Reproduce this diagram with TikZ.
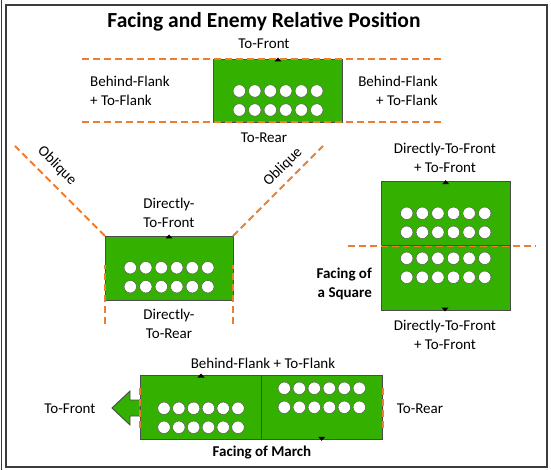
\documentclass[tikz,border=0pt]{standalone}
\usepackage{fontspec}
\setmainfont{Carlito}
\usepackage{tikz}
\usetikzlibrary{positioning, calc}

\definecolor{unitgreen}{RGB}{52,176,0}
\definecolor{flankorange}{RGB}{237,125,49}
\definecolor{edgegray}{RGB}{75,75,75}
\definecolor{framegray}{RGB}{60,60,60}

\begin{document}
\begin{tikzpicture}[
    x=1pt, y=-1pt,
    block/.style={draw=edgegray, line width=0.7pt, fill=unitgreen, anchor=north west, inner sep=0pt, outer sep=0pt},
    flank/.style={draw=flankorange, line width=1.8pt, dash pattern=on 7pt off 4pt},
    man/.style={draw=edgegray, line width=0.4pt, fill=white},
    lbl/.style={font=\fontsize{15pt}{18.5pt}\selectfont, align=center, inner sep=0pt},
    heading/.style={font=\fontsize{21.5pt}{25pt}\selectfont\bfseries, inner sep=0pt},
    facing/.style={fill=black},
]
  \useasboundingbox (0,0) rectangle (551,470);
  \draw[line width=1.5pt, framegray] (6,5) rectangle (547,467);
  \draw[line width=1.5pt, framegray] (1.5,0) -- (1.5,470);

  \node[heading] (title) at (264,22) {Facing and Enemy Relative Position};

  % unit facing to front
  \node[block, minimum width=129pt, minimum height=63pt] (front) at (213,59) {};
  \foreach \i in {0,...,5}
    \foreach \r in {91,110}
      \draw[man] (239.3+15.5*\i,\r) circle (6.2pt);
  \fill[facing] (274.5,61.5) -- ++(7,0) -- ++(-3.5,-4) -- cycle;
  \draw[flank] ([xshift=-131pt]front.north west) -- ([xshift=101pt]front.north east);
  \draw[flank] ([xshift=-131pt]front.south west) -- ([xshift=101pt]front.south east);
  \node[lbl] (tofront) at (264,44) {To-Front};
  \node[lbl] (torear) at (264,138) {To-Rear};
  \node[lbl, align=left, anchor=west] (flankl) at (90,91) {Behind-Flank\\+ To-Flank};
  \node[lbl, align=right, anchor=east] (flankr) at (438,91) {Behind-Flank\\+ To-Flank};

  % unit with oblique sectors
  \node[block, minimum width=128pt, minimum height=64pt] (direct) at (105,236) {};
  \foreach \i in {0,...,5}
    \foreach \r in {267.7,286.7}
      \draw[man] (130.3+15.5*\i,\r) circle (6.2pt);
  \fill[facing] (165.5,238.5) -- ++(7,0) -- ++(-3.5,-4) -- cycle;
  \draw[flank] ([yshift=-88pt]direct.north west) -- ([yshift=35pt]direct.south west);
  \draw[flank] ([yshift=-88pt]direct.north east) -- ([yshift=35pt]direct.south east);
  \draw[flank] (direct.north west) -- ++(-90,-90);
  \draw[flank] (direct.north east) -- ++(90,-90);
  \node[lbl, rotate=-45] (obliquel) at (57,166) {Oblique};
  \node[lbl, rotate=45] (obliquer) at (283,167) {Oblique};
  \node[lbl] (dfront) at (169,213) {Directly-\\To-Front};
  \node[lbl] (drear) at (169,324) {Directly-\\To-Rear};

  % square
  \node[block, minimum width=128.3pt, minimum height=128.3pt] (square) at (381.7,181.7) {};
  \draw[flank] ([xshift=-34pt]square.west) -- ([xshift=25pt]square.east);
  \draw[edgegray, line width=1.2pt] (square.west) -- (square.east);
  \foreach \i in {0,...,5}
    \foreach \r in {213.3,232.3,258.3,277.3}
      \draw[man] (406.7+15.6*\i,\r) circle (6.2pt);
  \fill[facing] (442.2,184.2) -- ++(7,0) -- ++(-3.5,-4) -- cycle;
  \fill[facing] (441.5,307.5) -- ++(7,0) -- ++(-3.5,4) -- cycle;
  \node[lbl] (sqfront) at (445,158) {Directly-To-Front\\+ To-Front};
  \node[lbl] (sqrear) at (445,335) {Directly-To-Front\\+ To-Front};
  \node[lbl, font=\fontsize{15pt}{18.5pt}\selectfont\bfseries, align=right, anchor=east] (sqname) at (372,284) {Facing of\\a Square};

  % column on the march
  \node[block, minimum width=242.7pt, minimum height=64.3pt] (march) at (140,375) {};
  \draw[edgegray, line width=0.9pt] (261.7,375) -- (261.7,439.3);
  \foreach \i in {0,...,5} {
    \foreach \r in {408.3,427.3}
      \draw[man] (164+14.8*\i,\r) circle (6.2pt);
    \foreach \r in {388.3,407.3}
      \draw[man] (284.3+15*\i,\r) circle (6.2pt);
  }
  \fill[facing] (197.5,377.5) -- ++(7,0) -- ++(-3.5,-4) -- cycle;
  \fill[facing] (318.2,436.8) -- ++(7,0) -- ++(-3.5,4) -- cycle;
  \draw[block, line width=0.9pt] (march.west |- 0,400) -- (130,400) -- (130,391) -- (112,408)
    -- (130,425) -- (130,416) -- (march.west |- 0,416);
  \draw[flank] ([yshift=-13.3pt]march.north west) -- ([yshift=10.7pt]march.south west);
  \draw[flank] ([yshift=-13.3pt]march.north east) -- ([yshift=10.7pt]march.south east);
  \node[lbl] (mfront) at (70,409) {To-Front};
  \node[lbl] (mrear) at (420,409) {To-Rear};
  \node[lbl] (mflank) at (263,363) {Behind-Flank + To-Flank};
  \node[lbl, font=\fontsize{15pt}{18.5pt}\selectfont\bfseries] (mname) at (262,453) {Facing of March};
\end{tikzpicture}
\end{document}
